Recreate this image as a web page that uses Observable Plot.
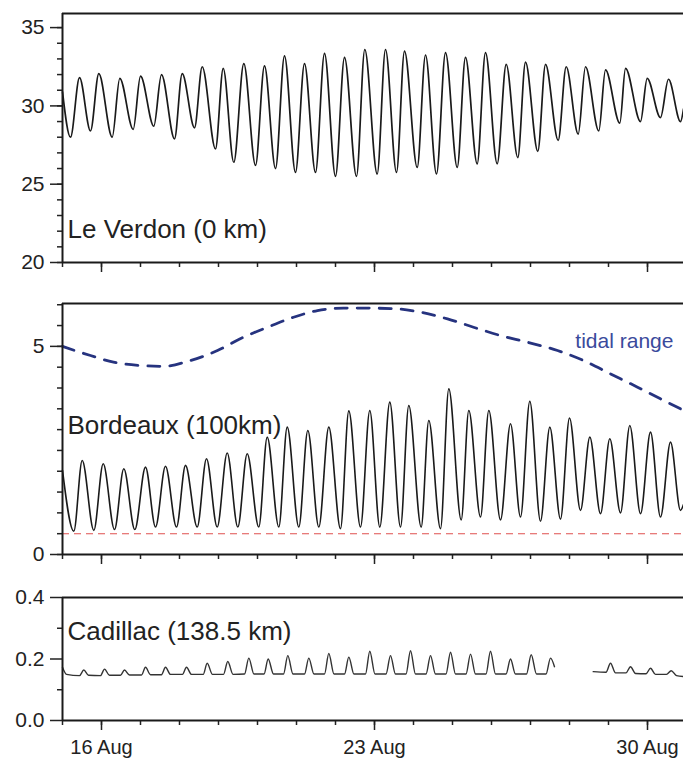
<!DOCTYPE html>
<html><head><meta charset="utf-8">
<script src="https://cdn.jsdelivr.net/npm/d3@7"></script>
<script src="https://cdn.jsdelivr.net/npm/@observablehq/plot@0.6"></script>
<style>
body{margin:0;background:#fff;}
#chart{width:683px;overflow:hidden;}
#chart svg{display:block;}
</style>
</head><body><div id="chart"></div>
<script>
// ---- data (time given as day of August, decimal) ----
const verdonDay = [15.0,15.205,15.436,15.718,15.931,16.274,16.469,16.813,17.0,17.341,17.538,17.872,18.069,18.385,18.582,18.923,19.121,19.392,19.649,19.949,20.179,20.462,20.692,20.974,21.205,21.487,21.718,22.0,22.231,22.538,22.751,23.069,23.282,23.564,23.769,24.095,24.308,24.590,24.821,25.121,25.333,25.633,25.846,26.146,26.377,26.674,26.872,27.187,27.385,27.710,27.915,28.223,28.410,28.751,28.923,29.290,29.436,29.821,29.992,30.333,30.538,30.846,30.923];
const verdonLevel = [30.9,28.0,31.8,28.4,32.06,28.0,31.76,28.5,31.9,28.7,32.0,27.9,32.06,28.6,32.5,27.25,32.4,26.4,32.7,26.2,32.55,26.0,33.2,25.75,32.7,25.75,33.35,25.5,33.1,25.5,33.6,25.65,33.6,25.75,33.5,26.07,33.25,25.65,33.4,26.07,33.1,26.3,33.4,26.3,32.65,26.7,32.8,27.1,32.65,27.8,32.5,28.2,32.5,28.4,32.3,28.9,32.4,29.0,31.76,29.25,31.7,29.0,29.8];

const bordeauxDay = [15.0,15.290,15.505,15.803,16.044,16.333,16.572,16.854,17.128,17.385,17.641,17.923,18.154,18.454,18.692,18.967,19.223,19.495,19.736,20.033,20.249,20.546,20.762,21.059,21.290,21.572,21.828,22.128,22.341,22.641,22.879,23.136,23.392,23.667,23.879,24.197,24.392,24.692,24.905,25.223,25.418,25.718,25.931,26.231,26.487,26.744,26.982,27.256,27.495,27.769,28.0,28.282,28.521,28.795,29.033,29.308,29.546,29.821,30.077,30.333,30.590,30.846,30.923];
const bordeauxLevel = [2.02,0.56,2.26,0.58,2.18,0.60,2.06,0.60,2.10,0.66,2.12,0.66,2.14,0.66,2.30,0.66,2.44,0.66,2.42,0.66,2.82,0.66,3.06,0.66,2.98,0.66,3.06,0.62,3.45,0.66,3.46,0.66,3.66,0.66,3.58,0.66,3.22,0.62,3.98,0.83,3.46,0.90,3.46,0.83,3.14,0.90,3.68,0.80,3.06,0.85,3.28,1.06,2.82,0.98,2.78,1.00,3.10,0.98,2.94,0.90,2.70,1.06,1.20];

const rangeDay = [15.0,15.718,16.308,17.0,17.590,18.282,18.974,19.641,20.256,20.923,21.538,22.205,22.718,23.590,24.179,24.872,25.538,26.231,26.923,27.692,28.359,29.051,29.744,30.333,30.846];
const rangeValue = [5.0,4.78,4.62,4.54,4.52,4.66,4.9,5.22,5.46,5.7,5.86,5.92,5.92,5.9,5.82,5.66,5.46,5.26,5.1,4.9,4.66,4.34,4.02,3.74,3.5];

const thresholdLevel = [0.5];

const cadillacDay = [15.0,15.103,15.436,15.546,15.667,15.974,16.077,16.205,16.487,16.590,16.718,17.026,17.128,17.256,17.538,17.641,17.769,18.077,18.179,18.308,18.608,18.710,18.846,19.128,19.238,19.372,19.667,19.777,19.910,20.167,20.274,20.410,20.667,20.777,20.910,21.205,21.315,21.449,21.718,21.828,21.962,22.231,22.341,22.474,22.769,22.879,23.013,23.295,23.410,23.538,23.808,23.923,24.051,24.321,24.436,24.564,24.833,24.949,25.077,25.346,25.462,25.590,25.859,25.974,26.103,26.372,26.487,26.615,26.897,27.018,27.154,27.397,27.513,27.615,28.1,28.608,28.936,29.051,29.179,29.449,29.564,29.692,29.962,30.077,30.205,30.487,30.608,30.744,30.923];
const cadillacLevel = [0.173,0.150,0.146,0.164,0.147,0.146,0.167,0.147,0.147,0.164,0.148,0.148,0.173,0.149,0.149,0.173,0.150,0.150,0.173,0.150,0.150,0.186,0.150,0.150,0.192,0.150,0.151,0.203,0.151,0.151,0.200,0.151,0.151,0.211,0.151,0.151,0.203,0.151,0.151,0.218,0.151,0.151,0.206,0.151,0.151,0.225,0.151,0.151,0.211,0.151,0.151,0.227,0.151,0.151,0.211,0.151,0.151,0.222,0.151,0.151,0.216,0.151,0.151,0.225,0.151,0.151,0.200,0.151,0.151,0.214,0.151,0.151,0.203,0.175,NaN,0.159,0.157,0.186,0.155,0.155,0.175,0.153,0.152,0.170,0.150,0.150,0.162,0.146,0.143];

const panelLabels = ["Le Verdon (0 km)", "Bordeaux (100km)", "Cadillac (138.5 km)"];
const rangeLabel = ["tidal range"];
const majorTickDays = [16, 23, 30];
const xTickLabels = ["16 Aug", "23 Aug", "30 Aug"];
const verdonTicks = [20, 25, 30, 35];
const bordeauxTicks = [0, 5];
const cadillacTicks = [0.0, 0.2, 0.4];

// ---- helpers ----
const day = d => new Date(Date.UTC(2009, 7, 1) + (d - 1) * 864e5);
const rows = (days, vals) => days.map((d, i) => ({date: day(d), value: vals[i]}));
const xDomain = [day(15), day(30.923)];
const minorDates = d3.utcDay.range(day(15), day(31));
const majorDates = majorTickDays.map(day);
const font = "'Liberation Sans', Arial, Helvetica, sans-serif";
const ink = "#1a1a1a";

function panel({height, top, bottom, yDomain, yMajor, yMinor, yFmt, xLabels, extra, label, labelDy}) {
  return Plot.plot({
    width: 683, height,
    marginLeft: 62, marginRight: 0, marginTop: top, marginBottom: bottom,
    x: {type: "utc", domain: xDomain, label: null},
    y: {domain: yDomain, label: null},
    style: {fontFamily: font, fontSize: "20px", color: "#222", background: "white", overflow: "visible"},
    marks: [
      Plot.axisY({ticks: yMinor, tickSize: 5, tickFormat: () => "", label: null, strokeWidth: 1.5}),
      Plot.axisY({ticks: yMajor, tickSize: 12, tickPadding: 6, tickFormat: yFmt, label: null, strokeWidth: 1.5, fontSize: 21}),
      Plot.axisX({ticks: minorDates, tickSize: 5, tickFormat: () => "", label: null, strokeWidth: 1.5}),
      Plot.axisX({ticks: majorDates, tickSize: 10, tickPadding: 9, label: null, strokeWidth: 1.5,
        tickFormat: xLabels ? (d => xTickLabels[majorDates.findIndex(m => +m === +d)]) : () => ""}),
      ...extra,
      Plot.ruleY([yDomain[0]], {stroke: ink, strokeWidth: 2}),
      Plot.ruleY([yDomain[1]], {stroke: ink, strokeWidth: 2}),
      Plot.ruleX([xDomain[0]], {stroke: ink, strokeWidth: 2}),
      Plot.text([label], {frameAnchor: "bottom-left", dx: 5, dy: labelDy, textAnchor: "start", lineAnchor: "middle", fontSize: 26, fill: "#222"})
    ]
  });
}

const chart = document.getElementById("chart");

chart.append(panel({
  height: 280, top: 13, bottom: 18, yDomain: [20, 35.9],
  yMajor: verdonTicks, yMinor: d3.range(20, 36, 1), yFmt: d => String(d), xLabels: false,
  label: panelLabels[0], labelDy: -33,
  extra: [Plot.line(rows(verdonDay, verdonLevel), {x: "date", y: "value", curve: "monotone-x", stroke: ink, strokeWidth: 1.7})]
}));

chart.append(panel({
  height: 290, top: 23, bottom: 16, yDomain: [0, 6.03],
  yMajor: bordeauxTicks, yMinor: d3.range(0, 6.01, 0.5), yFmt: d => String(d), xLabels: false,
  label: panelLabels[1], labelDy: -129,
  extra: [
    Plot.ruleY(thresholdLevel, {stroke: "#e0504f", strokeWidth: 1.1, strokeDasharray: "7,5"}),
    Plot.line(rows(rangeDay, rangeValue), {x: "date", y: "value", curve: "monotone-x", stroke: "#26337f", strokeWidth: 2.8, strokeDasharray: "12,10"}),
    Plot.line(rows(bordeauxDay, bordeauxLevel), {x: "date", y: "value", curve: "monotone-x", stroke: ink, strokeWidth: 1.6}),
    Plot.text(rangeLabel, {x: () => day(28.15), y: () => 5.12, textAnchor: "start", lineAnchor: "middle", fontSize: 21, fill: "#3a4a9c"})
  ]
}));

chart.append(panel({
  height: 189, top: 27, bottom: 39, yDomain: [0, 0.4],
  yMajor: cadillacTicks, yMinor: [0.1, 0.3], yFmt: d3.format(".1f"), xLabels: true,
  label: panelLabels[2], labelDy: -89,
  extra: [Plot.line(rows(cadillacDay, cadillacLevel), {x: "date", y: "value", curve: "monotone-x", stroke: "#333", strokeWidth: 1.4})]
}));
</script></body></html>
